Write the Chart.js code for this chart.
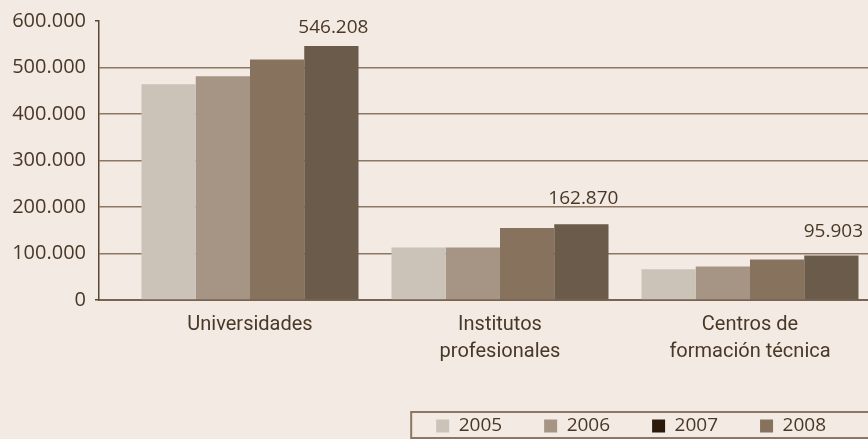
<!DOCTYPE html>
<html>
<head>
<meta charset="utf-8">
<script src="https://cdn.jsdelivr.net/npm/chart.js@4"></script>
<style>
  html, body { margin: 0; padding: 0; background: #f2eae3; overflow: hidden; }
</style>
</head>
<body>
<canvas id="myChart" width="868" height="439"></canvas>
<script>
// data
const categories = [['Universidades'], ['Institutos', 'profesionales'], ['Centros de', 'formación técnica']];
const years = ['2005', '2006', '2007', '2008'];
const values2005 = [464000, 113000, 66000];
const values2006 = [481000, 113000, 72000];
const values2007 = [517000, 155000, 87000];
const values2008 = [546208, 162870, 95903];
const yMax = 600000;
const yStep = 100000;

// styles
const barColors = ['#cbc2b8', '#a69584', '#87725e', '#6b5b4a'];
const legendColors = ['#cbc2b8', '#a69584', '#2b1a0b', '#87725e'];
const labelOffsets = [18, 26, 24];
const textColor = '#4a3826';
const gridColor = '#8b7763';
const axisColor = '#5b4633';
const baseColor = '#7a6350';

const ctx = document.getElementById('myChart');

function fmt(v) {
  return String(v).replace(/\B(?=(\d{3})+(?!\d))/g, '.');
}

const valueLabels = {
  id: 'valueLabels',
  afterDatasetsDraw(chart) {
    const meta = chart.getDatasetMeta(3);
    const c = chart.ctx;
    c.save();
    c.font = '19px "Open Sans"';
    c.fillStyle = textColor;
    c.textAlign = 'center';
    c.textBaseline = 'middle';
    meta.data.forEach((bar, i) => {
      c.fillText(fmt(values2008[i]), bar.x + 2, bar.y - labelOffsets[i]);
    });
    c.restore();
  }
};

const legendFrame = {
  id: 'legendFrame',
  afterDraw(chart) {
    const hb = chart.legend.legendHitBoxes[0];
    const mid = hb.top + hb.height / 2;
    const c = chart.ctx;
    c.save();
    c.strokeStyle = gridColor;
    c.lineWidth = 2;
    c.strokeRect(hb.left - 25, mid - 14, chart.width + 10, 26);
    c.restore();
  }
};

new Chart(ctx, {
  type: 'bar',
  data: {
    datasets: [values2005, values2006, values2007, values2008].map((vals, i) => ({
      label: years[i],
      data: vals.map((v, j) => ({ x: j, y: v })),
      backgroundColor: barColors[i],
      borderWidth: 0,
      barPercentage: 1,
      categoryPercentage: 0.868
    }))
  },
  options: {
    responsive: false,
    animation: false,
    layout: { padding: { top: 18, left: 0, right: 0, bottom: 0 } },
    plugins: {
      tooltip: { enabled: false },
      legend: {
        position: 'bottom',
        align: 'end',
        maxHeight: 64.5,
        labels: {
          boxWidth: 13,
          boxHeight: 13,
          padding: 42,
          color: textColor,
          font: { family: '"Open Sans"', size: 19 },
          generateLabels: () => years.map((y, i) => ({
            text: y,
            fillStyle: legendColors[i],
            strokeStyle: legendColors[i],
            lineWidth: 0,
            hidden: false,
            datasetIndex: i,
            fontColor: textColor
          }))
        }
      }
    },
    scales: {
      x: {
        type: 'linear',
        offset: false,
        min: -0.604,
        max: 2.472,
        grid: { display: false, drawTicks: false, offset: false },
        border: { display: true, color: baseColor, width: 2 },
        ticks: {
          stepSize: 1,
          includeBounds: false,
          autoSkip: false,
          maxRotation: 0,
          padding: 12,
          color: textColor,
          font: { family: 'Roboto', size: 20, lineHeight: 1.32 },
          callback: v => categories[v]
        },
        afterFit: s => { s.height = 74.5; }
      },
      y: {
        min: 0,
        max: yMax,
        grid: {
          lineWidth: 1.5,
          tickLength: 4,
          color: c => c.tick && c.tick.value === yMax ? 'rgba(0,0,0,0)' : (c.tick && c.tick.value === 0 ? baseColor : gridColor),
          tickColor: c => c.tick && (c.tick.value === yMax || c.tick.value === 0) ? axisColor : 'rgba(0,0,0,0)'
        },
        border: { color: axisColor, width: 1.5 },
        ticks: {
          stepSize: yStep,
          padding: 9,
          color: textColor,
          font: { family: '"Open Sans"', size: 20 },
          callback: v => fmt(v)
        },
        afterFit: s => { s.width = 99; }
      }
    }
  },
  plugins: [valueLabels, legendFrame]
});
</script>
</body>
</html>
